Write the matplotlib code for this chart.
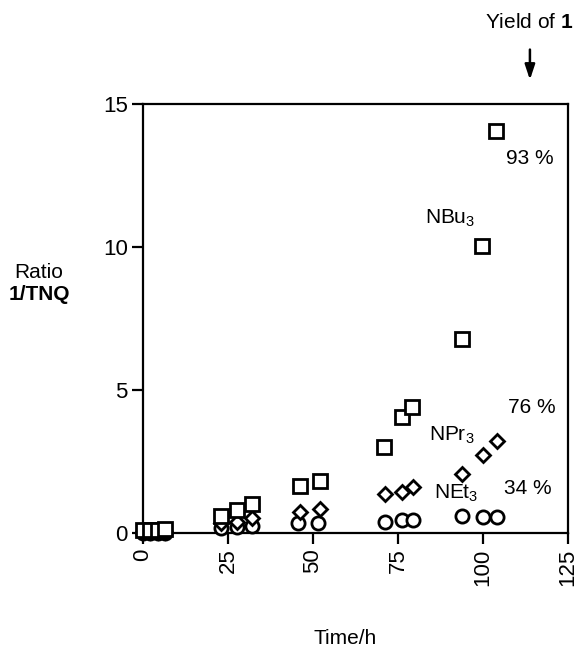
import matplotlib
matplotlib.use("Agg")
import matplotlib.pyplot as plt

plt.rcParams['font.family'] = ['Liberation Sans', 'DejaVu Sans']
plt.rcParams['mathtext.fontset'] = 'custom'
plt.rcParams['mathtext.rm'] = 'Liberation Sans'
plt.rcParams['mathtext.it'] = 'Liberation Sans'
plt.rcParams['mathtext.bf'] = 'Liberation Sans:bold'

# NBu3 (squares)
t_bu = [0, 2, 4.5, 6.5, 23, 27.6, 32, 46.2, 52, 70.9, 76.2, 79.1, 93.8, 99.7, 103.8]
v_bu = [0.1, 0.1, 0.1, 0.15, 0.6, 0.8, 1.0, 1.65, 1.82, 3.0, 4.07, 4.42, 6.8, 10.05, 14.05]
# NPr3 (diamonds)
t_pr = [0, 2, 4.5, 6.5, 23, 27.6, 32, 46.2, 52, 71.2, 76.2, 79.4, 93.8, 100, 104]
v_pr = [0.05, 0.05, 0.05, 0.05, 0.35, 0.4, 0.52, 0.74, 0.83, 1.37, 1.45, 1.62, 2.07, 2.73, 3.22]
# NEt3 (circles)
t_et = [0, 2, 4.5, 6.5, 23, 27.6, 32, 45.6, 51.5, 71.2, 76.2, 79.4, 93.8, 100, 104]
v_et = [0.0, 0.0, 0.0, 0.0, 0.17, 0.2, 0.25, 0.35, 0.35, 0.38, 0.45, 0.45, 0.6, 0.57, 0.57]

xticks = [0, 25, 50, 75, 100, 125]
yticks = [0, 5, 10, 15]

fig = plt.figure(figsize=(5.78, 6.49), dpi=100)
ax = fig.add_axes([143/578, 1-533/649, 425/578, 429/649])

mk = dict(linestyle='none', markerfacecolor='white', markeredgecolor='black',
          markeredgewidth=2.0, clip_on=False)
ax.plot(t_et, v_et, marker='o', markersize=9.5, zorder=3, **mk)
ax.plot(t_pr, v_pr, marker='D', markersize=7, zorder=4, **mk)
ax.plot(t_bu, v_bu, marker='s', markersize=9.5, zorder=5, **mk)

ax.set_xlim(0, 125)
ax.set_ylim(0, 15)
ax.set_xticks(xticks)
ax.set_yticks(yticks)
ax.set_xticklabels([str(x) for x in xticks], rotation=90, fontsize=16)
ax.set_yticklabels([str(y) for y in yticks], fontsize=16)
ax.tick_params(direction='out', length=8, width=1.6, pad=3)
for s in ax.spines.values():
    s.set_linewidth(1.6)

fs = 15
ax.text(113.8, 13.1, '93 %', fontsize=fs, ha='center', va='center')
ax.text(90.3, 11.0, r'NBu$_3$', fontsize=fs, ha='center', va='center')
ax.text(114.4, 4.4, '76 %', fontsize=fs, ha='center', va='center')
ax.text(90.9, 3.43, r'NPr$_3$', fontsize=fs, ha='center', va='center')
ax.text(113.2, 1.57, '34 %', fontsize=fs, ha='center', va='center')
ax.text(92.0, 1.4, r'NEt$_3$', fontsize=fs, ha='center', va='center')

ax.annotate('', xy=(113.8, 15.75), xytext=(113.8, 17.0),
            xycoords='data', textcoords='data', annotation_clip=False,
            arrowprops=dict(arrowstyle='-|>,head_length=0.9,head_width=0.3',
                            color='black', lw=1.8))
fig.text(529/578, 1-23/649, r'Yield of $\mathbf{1}$', fontsize=fs,
         ha='center', va='center')

fig.text(39/578, 1-272/649, 'Ratio', fontsize=fs, ha='center', va='center')
fig.text(39/578, 1-294/649, '1/TNQ', fontsize=fs, ha='center', va='center',
         fontweight='bold')
fig.text(345/578, 1-638/649, 'Time/h', fontsize=fs, ha='center', va='center')

fig.savefig('out.png', dpi=100)
